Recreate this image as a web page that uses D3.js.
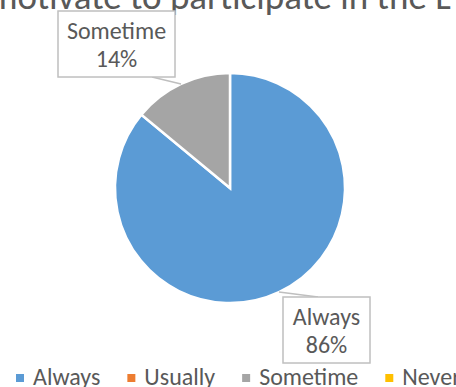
<!DOCTYPE html>
<html>
<head>
<meta charset="utf-8">
<script src="https://cdn.jsdelivr.net/npm/d3@7"></script>
<style>
  html, body { margin: 0; padding: 0; background: #fff; overflow: hidden; }
  svg { display: block; }
  text { font-family: Carlito, Calibri, Lato, "Open Sans", sans-serif; fill: #595959; }
</style>
</head>
<body>
<svg id="chart" width="456" height="387"></svg>
<script>
// Answer categories and their shares (percent)
const categories = ["Always", "Usually", "Sometime", "Never"];
const values = [86, 0, 14, 0];
const colors = ["#5B9BD5", "#ED7D31", "#A5A5A5", "#FFC000"];
const titleText = "motivate to participate in the L";

const width = 456, height = 387;
const svg = d3.select("#chart");

const cx = 230, cy = 188, radius = 115;

const data = categories.map((c, i) => ({ category: c, value: values[i], color: colors[i] }));
const total = d3.sum(values);

// Title (runs off both sides of the canvas)
svg.append("text")
  .attr("x", -12)
  .attr("y", 9)
  .attr("font-size", 37)
  .text(titleText);

// Pie, starting at 12 o'clock and going clockwise
const pie = d3.pie().value(d => d.value).sort(null);
const arc = d3.arc().innerRadius(0).outerRadius(radius);
const arcs = pie(data);

const g = svg.append("g").attr("transform", `translate(${cx},${cy})`);
g.selectAll("path.slice")
  .data(arcs.filter(d => d.data.value > 0))
  .join("path")
  .attr("class", "slice")
  .attr("d", arc)
  .attr("fill", d => d.data.color)
  .attr("stroke", "#fff")
  .attr("stroke-width", 2.5)
  .attr("stroke-linejoin", "miter");

// Callout labels with leader lines to the middle of each slice's arc
const callouts = {
  "Always":   { box: [283, 297, 87, 66], anchor: [318, 297] },
  "Sometime": { box: [58, 11, 117, 66], anchor: [152, 77] }
};
const pct = d3.format(".0%");
arcs.filter(d => d.data.value > 0).forEach(d => {
  const c = callouts[d.data.category];
  const mid = (d.startAngle + d.endAngle) / 2;
  const px = cx + radius * Math.sin(mid);
  const py = cy - radius * Math.cos(mid);
  svg.append("line")
    .attr("x1", c.anchor[0]).attr("y1", c.anchor[1])
    .attr("x2", px).attr("y2", py)
    .attr("stroke", "#BFBFBF").attr("stroke-width", 1.5);
  const [bx, by, bw, bh] = c.box;
  svg.append("rect")
    .attr("x", bx).attr("y", by).attr("width", bw).attr("height", bh)
    .attr("fill", "#fff").attr("stroke", "#BFBFBF").attr("stroke-width", 1.5);
  const t = svg.append("text")
    .attr("text-anchor", "middle")
    .attr("font-size", 24);
  t.append("tspan").attr("x", bx + bw / 2).attr("y", by + 28).text(d.data.category);
  t.append("tspan").attr("x", bx + bw / 2).attr("y", by + 56).text(pct(d.data.value / total));
});

// Legend along the bottom
let lx = 16;
const ly = 374;
data.forEach(d => {
  svg.append("rect")
    .attr("x", lx).attr("y", ly).attr("width", 8).attr("height", 8)
    .attr("fill", d.color);
  const t = svg.append("text")
    .attr("x", lx + 17).attr("y", ly + 11)
    .attr("font-size", 24)
    .text(d.category);
  lx += 17 + t.node().getComputedTextLength() + 27;
});
</script>
</body>
</html>
